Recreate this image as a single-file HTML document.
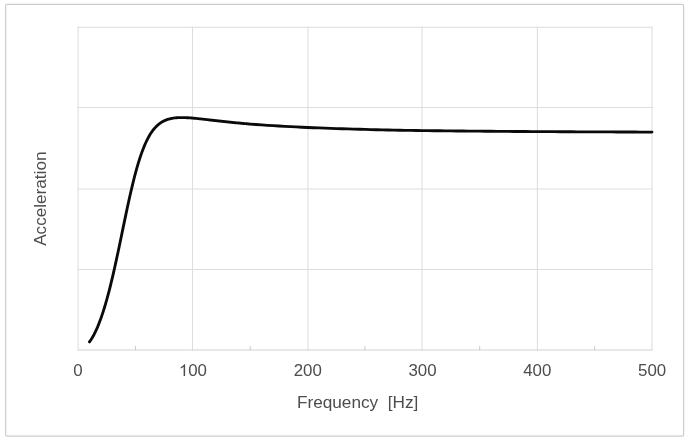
<!DOCTYPE html>
<html>
<head>
<meta charset="utf-8">
<title>Acceleration vs Frequency</title>
<style>
html,body{margin:0;padding:0;background:#ffffff;}
body{width:690px;height:445px;overflow:hidden;font-family:"Liberation Sans",sans-serif;}
svg{display:block;will-change:transform;}
text{font-family:"Liberation Sans",sans-serif;fill:#4c4c4c;}
</style>
</head>
<body>
<svg width="690" height="445" viewBox="0 0 690 445">
<rect x="0" y="0" width="690" height="445" fill="#ffffff"/>
<!-- outer chart frame -->
<rect x="5.7" y="4.3" width="677.9" height="431.8" rx="1.2" ry="1.2" fill="#ffffff" stroke="#cdcdcd" stroke-width="1.25"/>
<!-- gridlines -->
<g stroke="#dddddd" stroke-width="1.05" fill="none">
<line x1="77.6" y1="27.3" x2="652.5" y2="27.3"/>
<line x1="77.6" y1="107.5" x2="652.5" y2="107.5"/>
<line x1="77.6" y1="189.0" x2="652.5" y2="189.0"/>
<line x1="77.6" y1="269.5" x2="652.5" y2="269.5"/>
<line x1="78.1" y1="26.8" x2="78.1" y2="350.5"/>
<line x1="192.5" y1="26.8" x2="192.5" y2="350.5"/>
<line x1="307.9" y1="26.8" x2="307.9" y2="350.5"/>
<line x1="422.0" y1="26.8" x2="422.0" y2="350.5"/>
<line x1="537.4" y1="26.8" x2="537.4" y2="350.5"/>
<line x1="652.0" y1="26.8" x2="652.0" y2="350.5"/>
</g>
<!-- x axis -->
<g stroke="#d2d2d2" stroke-width="1.1" fill="none">
<line x1="77.6" y1="350.0" x2="652.5" y2="350.0"/>
</g>
<g stroke="#bcbcbc" stroke-width="0.8" fill="none">
<line x1="135.45" y1="345.9" x2="135.45" y2="350.0"/>
<line x1="250.20" y1="345.9" x2="250.20" y2="350.0"/>
<line x1="364.95" y1="345.9" x2="364.95" y2="350.0"/>
<line x1="479.70" y1="345.9" x2="479.70" y2="350.0"/>
<line x1="594.70" y1="345.9" x2="594.70" y2="350.0"/>
</g>
<!-- data curve -->
<path d="M89.48,341.90 L90.63,340.29 L91.78,338.51 L92.92,336.57 L94.07,334.46 L95.22,332.18 L96.37,329.73 L97.52,327.11 L98.66,324.32 L99.81,321.35 L100.96,318.21 L102.11,314.89 L103.26,311.40 L104.40,307.73 L105.55,303.88 L106.70,299.86 L107.85,295.68 L109.00,291.32 L110.14,286.81 L111.29,282.14 L112.44,277.32 L113.59,272.37 L114.74,267.29 L115.88,262.10 L117.03,256.80 L118.18,251.43 L119.33,245.98 L120.48,240.48 L121.62,234.95 L122.77,229.40 L123.92,223.87 L125.07,218.37 L126.22,212.91 L127.36,207.53 L128.51,202.23 L129.66,197.05 L130.81,192.00 L131.96,187.09 L133.10,182.34 L134.25,177.76 L135.40,173.36 L136.55,169.16 L137.70,165.15 L138.84,161.34 L139.99,157.74 L141.14,154.34 L142.29,151.14 L143.44,148.15 L144.58,145.35 L145.73,142.75 L146.88,140.32 L148.03,138.08 L149.18,136.00 L150.32,134.09 L151.47,132.33 L152.62,130.72 L153.77,129.25 L154.92,127.90 L156.06,126.67 L157.21,125.56 L158.36,124.55 L159.51,123.64 L160.66,122.82 L161.80,122.09 L162.95,121.43 L164.10,120.84 L165.25,120.32 L166.40,119.86 L167.54,119.45 L168.69,119.10 L169.84,118.79 L170.99,118.52 L172.14,118.30 L173.28,118.11 L174.43,117.95 L175.58,117.82 L176.73,117.73 L177.88,117.65 L179.02,117.60 L180.17,117.57 L181.32,117.55 L182.47,117.56 L183.62,117.58 L184.76,117.61 L185.91,117.65 L187.06,117.71 L188.21,117.78 L189.36,117.85 L190.50,117.93 L191.65,118.02 L192.80,118.12 L193.95,118.22 L195.10,118.33 L196.24,118.44 L197.39,118.56 L198.54,118.68 L199.69,118.80 L200.84,118.93 L201.98,119.05 L203.13,119.18 L204.28,119.31 L205.43,119.44 L206.58,119.57 L207.72,119.70 L208.87,119.84 L210.02,119.97 L211.17,120.10 L212.32,120.24 L213.46,120.37 L214.61,120.50 L215.76,120.63 L216.91,120.76 L218.06,120.89 L219.20,121.02 L220.35,121.15 L221.50,121.28 L222.65,121.40 L223.80,121.53 L224.94,121.65 L226.09,121.78 L227.24,121.90 L228.39,122.02 L229.54,122.14 L230.68,122.26 L231.83,122.37 L232.98,122.49 L234.13,122.60 L235.28,122.71 L236.42,122.82 L237.57,122.93 L238.72,123.04 L239.87,123.15 L241.02,123.25 L242.16,123.36 L243.31,123.46 L244.46,123.56 L245.61,123.66 L246.76,123.76 L247.90,123.86 L249.05,123.96 L250.20,124.05 L255.94,124.51 L261.68,124.93 L267.42,125.33 L273.16,125.70 L278.90,126.04 L284.64,126.36 L290.38,126.67 L296.12,126.95 L301.86,127.22 L307.60,127.48 L313.34,127.72 L319.08,127.95 L324.82,128.17 L330.56,128.38 L336.30,128.58 L342.04,128.77 L347.78,128.95 L353.52,129.12 L359.26,129.28 L365.00,129.44 L370.74,129.58 L376.48,129.72 L382.22,129.85 L387.96,129.98 L393.70,130.10 L399.44,130.21 L405.18,130.31 L410.92,130.40 L416.66,130.49 L422.40,130.57 L428.14,130.65 L433.88,130.72 L439.62,130.79 L445.36,130.86 L451.10,130.92 L456.84,130.98 L462.58,131.04 L468.32,131.09 L474.06,131.14 L479.80,131.19 L485.54,131.24 L491.28,131.29 L497.02,131.33 L502.76,131.38 L508.50,131.42 L514.24,131.46 L519.98,131.50 L525.72,131.53 L531.46,131.57 L537.20,131.60 L542.94,131.64 L548.68,131.67 L554.42,131.70 L560.16,131.73 L565.90,131.76 L571.64,131.78 L577.38,131.81 L583.12,131.84 L588.86,131.86 L594.60,131.89 L600.34,131.91 L606.08,131.93 L611.82,131.95 L617.56,131.98 L623.30,132.00 L629.04,132.02 L634.78,132.04 L640.52,132.05 L646.26,132.07 L652.00,132.09" fill="none" stroke="#0a0a0a" stroke-width="2.85" stroke-linecap="round" stroke-linejoin="round"/>
<!-- x tick labels -->
<g font-size="16.3" text-anchor="middle">
<text transform="translate(78,376) scale(1.035,1)">0</text>
<path transform="translate(178.826,376) scale(0.008238,-0.007959)" fill="#4c4c4c" d="M763 0H583V1147Q518 1085 412.500 1023T223 930V1104Q375 1175.500 489 1277.500T650 1474H763Z"/>
<text transform="translate(188.209,376) scale(1.035,1)" text-anchor="start">00</text>
<text transform="translate(307.7,376) scale(1.035,1)">200</text>
<text transform="translate(422.5,376) scale(1.035,1)">300</text>
<text transform="translate(537.3,376) scale(1.035,1)">400</text>
<text transform="translate(652.1,376) scale(1.035,1)">500</text>
</g>
<!-- axis titles -->
<text transform="translate(357.6,407.9) scale(1.056,1)" font-size="16.3" text-anchor="middle" xml:space="preserve">Frequency  [Hz]</text>
<text transform="translate(46.0,198.7) rotate(-90) scale(1.052,1)" font-size="16.3" text-anchor="middle">Acceleration</text>
</svg>
</body>
</html>
